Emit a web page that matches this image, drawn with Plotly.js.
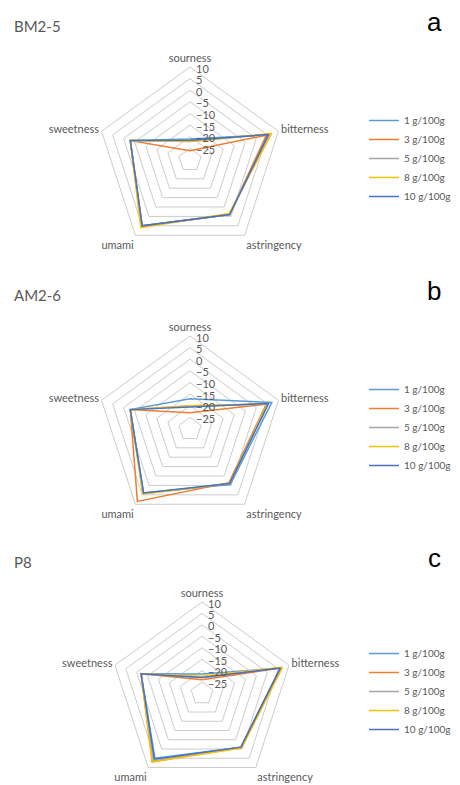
<!DOCTYPE html>
<html>
<head>
<meta charset="utf-8">
<script src="https://cdn.plot.ly/plotly-3.0.1.min.js"></script>
<style>html,body{margin:0;padding:0;background:#fff;}#chart{width:460px;height:785px;}</style>
</head>
<body>
<div id="chart"></div>
<script>
// ---- data ----
var attributes = ["sourness", "bitterness", "astringency", "umami", "sweetness"];
var seriesNames = ["1 g/100g", "3 g/100g", "5 g/100g", "8 g/100g", "10 g/100g"];
var radialTicks = [-25, -20, -15, -10, -5, 0, 5, 10];
var panelNames = ["BM2-5", "AM2-6", "P8"];
var panelLetters = ["a", "b", "c"];

// values per concentration: [sourness, bitterness, astringency, umami, sweetness]
var bm25_1 = [-21, 5, -1, 5, -3];
var bm25_3 = [-26, 4.5, -1, 5, -3];
var bm25_5 = [-22, 6, -1, 5.5, -3];
var bm25_8 = [-22, 7, -1.5, 6, -3];
var bm25_10 = [-21.5, 5.5, -1, 5, -3];

var am26_1 = [-17, 7, -0.5, 4, -3];
var am26_3 = [-23, 4.5, -1.5, 8.5, -3];
var am26_5 = [-20, 5, -1, 4.5, -3];
var am26_8 = [-20, 5, -1, 4.5, -3];
var am26_10 = [-20.5, 5.5, -1, 4, -3];

var p8_1 = [-21.5, 6, -1, 5, -2];
var p8_3 = [-24, 6, -1, 7, -2];
var p8_5 = [-23, 6.5, -1, 6.5, -2];
var p8_8 = [-22.5, 7, -0.5, 7, -2];
var p8_10 = [-23, 6, -1, 5.5, -2];

var panelData = [
  [bm25_1, bm25_3, bm25_5, bm25_8, bm25_10],
  [am26_1, am26_3, am26_5, am26_8, am26_10],
  [p8_1, p8_3, p8_5, p8_8, p8_10]
];

// ---- style ----
var colors = ["#5B9BD5", "#ED7D31", "#A5A5A5", "#FFC000", "#4472C4"];
var W = 460, H = 785;
var FONT = "Lato, 'Open Sans', sans-serif";
var centers = [[190, 160], [190, 429], [202, 695]];
var R = 93;
var legendTops = [106, 375, 639];
var titleY = [26, 295, 562];

function closeLoop(a) { return a.concat([a[0]]); }

var traces = [];
var layout = {
  width: W, height: H,
  margin: {l: 0, r: 0, t: 0, b: 0},
  paper_bgcolor: "#ffffff",
  font: {family: FONT, color: "#595959"},
  annotations: []
};

for (var p = 0; p < 3; p++) {
  var pk = p === 0 ? "polar" : "polar" + (p + 1);
  var lk = p === 0 ? "legend" : "legend" + (p + 1);
  var cx = centers[p][0], cy = centers[p][1];
  layout[pk] = {
    domain: {
      x: [(cx - R) / W, (cx + R) / W],
      y: [(H - cy - R) / H, (H - cy + R) / H]
    },
    gridshape: "linear",
    bgcolor: "rgba(0,0,0,0)",
    angularaxis: {
      direction: "clockwise", rotation: 90,
      showgrid: false, showline: true, linecolor: "#CCCCCC", linewidth: 1,
      ticks: "", tickfont: {size: 11, color: "#595959", family: FONT}
    },
    radialaxis: {
      range: [-30, 10], tickvals: radialTicks, angle: 90,
      showline: false, ticks: "", gridcolor: "#CCCCCC", gridwidth: 1,
      tickfont: {size: 11, color: "#595959", family: FONT}
    }
  };
  layout[lk] = {
    x: 364 / W, y: 1 - legendTops[p] / H, xanchor: "left", yanchor: "top",
    bgcolor: "rgba(0,0,0,0)", font: {size: 10, color: "#595959", family: FONT},
    itemwidth: 30, tracegroupgap: 0
  };
  for (var s = 0; s < 5; s++) {
    traces.push({
      type: "scatterpolar", mode: "lines",
      r: closeLoop(panelData[p][s]),
      theta: closeLoop(attributes),
      name: seriesNames[s],
      line: {color: colors[s], width: 1.5},
      subplot: pk, legend: lk, showlegend: true
    });
  }
  layout.annotations.push({
    text: panelNames[p], xref: "paper", yref: "paper",
    x: 12 / W, y: 1 - titleY[p] / H, xanchor: "left", yanchor: "middle",
    showarrow: false, font: {size: 15, color: "#595959", family: FONT}
  });
  layout.annotations.push({
    text: panelLetters[p], xref: "paper", yref: "paper",
    x: 434 / W, y: 1 - (titleY[p] - 4) / H, xanchor: "center", yanchor: "middle",
    showarrow: false, font: {size: 26, color: "#000000", family: "Liberation Sans, Arial, sans-serif"}
  });
}

Plotly.newPlot("chart", traces, layout, {displayModeBar: false, staticPlot: true});
</script>
</body>
</html>
